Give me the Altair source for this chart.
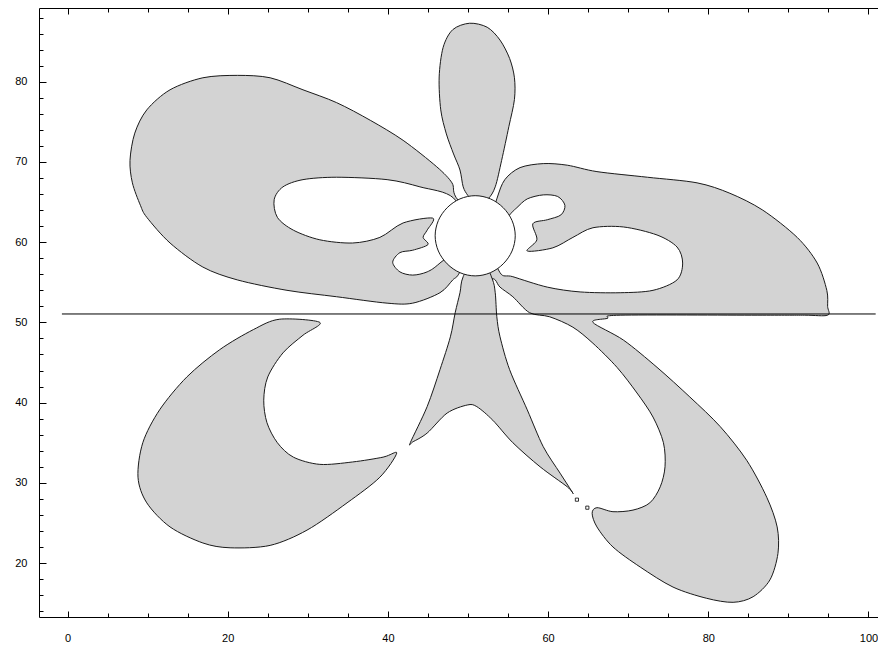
import altair as alt
import pandas as pd

# ---- filled (grey) regions, data coordinates ----
UPPER_LEFT_X = [48.5, 48.0, 46.1, 41.9, 37.8, 33.6, 29.4, 25.3, 21.2, 16.9, 12.8, 9.9, 8.4, 7.8, 8.1, 9.1, 9.9,
                12.8, 16.9, 21.2, 27.4, 33.6, 39.9, 43.1, 46.5, 48.1, 49.0, 51.5]
UPPER_LEFT_Y = [65.6, 67.4, 69.4, 72.7, 75.2, 77.4, 79.0, 80.5, 80.8, 80.5, 79.0, 76.5, 73.6, 70.2, 67.4, 64.6, 63.1,
                59.9, 56.9, 55.3, 54.0, 53.2, 52.4, 52.4, 53.7, 55.3, 56.3, 61.5]

TOP_X = [50.2, 48.1, 46.9, 46.4, 46.6, 47.3, 48.2, 49.0, 49.4, 50.0, 51.0, 52.5, 53.4, 54.2, 55.1, 55.8, 55.8,
         55.2, 54.0, 52.4]
TOP_Y = [87.3, 86.5, 84.3, 80.6, 76.5, 73.5, 71.0, 69.0, 66.9, 65.8, 64.6, 65.4, 66.9, 70.2, 74.4, 77.8, 80.5,
         82.9, 85.2, 86.8]

RIGHT_X = [52.3, 53.6, 54.6, 56.5, 59.4, 62.4, 66.1, 72.4, 78.6, 82.7, 86.8, 91.1, 93.6, 94.8, 94.9, 94.9, 92.0,
           86.1, 69.0, 67.4, 65.6, 69.4, 73.6, 77.7, 81.5, 84.8, 87.3, 88.6, 88.7, 87.7, 85.6, 83.1, 79.8, 75.6,
           71.5, 68.1, 66.1, 65.5, 66.1, 68.1, 70.6, 72.7, 74.0, 74.6, 74.4, 73.1, 71.1, 68.6, 65.6, 63.1, 60.2,
           57.7, 55.6, 54.0, 53.4, 52.4]
RIGHT_Y = [60.9, 65.4, 67.8, 69.3, 69.8, 69.6, 68.8, 68.1, 67.4, 66.1, 64.0, 60.6, 57.4, 54.0, 52.0, 50.9, 50.9,
           50.9, 50.9, 50.5, 50.0, 47.8, 44.4, 40.7, 37.0, 32.8, 28.2, 24.5, 21.2, 17.9, 15.8, 15.1, 15.6, 17.0,
           19.5, 22.0, 24.5, 26.2, 26.9, 26.4, 26.6, 27.5, 29.5, 32.0, 35.0, 38.2, 41.2, 44.4, 47.4, 49.4, 50.7,
           51.2, 53.2, 54.4, 55.3, 56.2]

STEM_X = [51.3, 49.4, 49.0, 48.4, 47.8, 46.5, 44.9, 42.8, 43.1, 44.9, 47.4, 49.9, 51.1, 53.1, 55.6, 59.0, 62.4,
          63.1, 61.5, 59.4, 57.4, 55.2, 54.0, 53.6, 53.4, 53.0]
STEM_Y = [59.0, 55.7, 53.7, 51.2, 48.2, 44.1, 39.5, 35.0, 35.1, 36.2, 38.7, 39.7, 39.5, 37.8, 35.0, 32.0, 29.5,
          28.7, 31.2, 34.5, 39.1, 44.1, 48.2, 50.7, 53.7, 55.5]

CRESCENT_X = [31.5, 26.5, 23.2, 19.0, 14.9, 11.5, 9.4, 8.8, 9.9, 12.8, 16.9, 20.3, 25.3, 29.9, 34.9, 39.0, 41.1,
              39.4, 35.6, 31.5, 28.2, 26.2, 24.9, 24.5, 25.0, 26.9, 29.4]
CRESCENT_Y = [50.0, 50.4, 49.1, 46.6, 43.2, 39.1, 35.0, 30.7, 27.5, 24.5, 22.5, 21.9, 22.2, 24.1, 27.5, 30.7, 33.7,
              33.2, 32.6, 32.3, 33.2, 35.0, 37.5, 40.3, 43.2, 46.2, 48.4]

# ---- unfilled (white) regions ----
LEFT_HOLE_X = [48.2, 44.0, 39.9, 33.6, 29.4, 26.9, 25.8, 26.2, 28.2, 31.5, 35.6, 39.0, 41.9, 45.6, 44.9, 44.4,
               45.0, 43.1, 41.5, 40.6, 41.5, 43.1, 44.9, 46.5, 50.2]
LEFT_HOLE_Y = [65.5, 66.9, 67.8, 68.1, 67.8, 66.9, 65.3, 63.1, 61.5, 60.3, 59.9, 60.6, 62.4, 63.0, 61.5, 60.6,
               59.7, 59.0, 58.7, 57.5, 56.3, 55.9, 56.3, 57.4, 60.9]

RIGHT_HOLE_X = [55.2, 56.1, 57.4, 59.4, 61.2, 62.1, 61.6, 59.9, 58.1, 58.6, 57.4, 60.6, 63.1, 65.6, 69.4, 73.6,
                76.1, 76.8, 76.1, 73.1, 69.0, 64.0, 59.9, 55.6, 54.0, 52.7]
RIGHT_HOLE_Y = [63.4, 64.3, 65.4, 65.9, 65.7, 64.6, 63.4, 62.8, 62.3, 60.3, 58.9, 59.3, 60.6, 61.8, 61.9, 60.9,
                59.4, 57.4, 55.3, 54.0, 53.7, 53.8, 54.4, 55.7, 56.2, 60.3]

CENTER_X = [55.9, 55.5, 54.4, 52.8, 50.9, 49.0, 47.4, 46.3, 45.9, 46.3, 47.4, 49.0, 50.9, 52.8, 54.4, 55.5]
CENTER_Y = [60.8, 62.7, 64.3, 65.4, 65.8, 65.4, 64.3, 62.7, 60.8, 58.9, 57.3, 56.2, 55.8, 56.2, 57.3, 58.9]

# tiny contour loops near the stem tip
DOT_X = [63.6, 64.9]
DOT_Y = [27.9, 26.9]

# horizontal line
HLINE_X = [-0.7, 100.9]
HLINE_Y = [51.05, 51.05]

# axis ticks
X_MAJOR = [0, 20, 40, 60, 80, 100]
X_MINOR = [5, 10, 15, 25, 30, 35, 45, 50, 55, 65, 70, 75, 85, 90, 95]
Y_MAJOR = [20, 30, 40, 50, 60, 70, 80]
Y_MINOR = [14, 16, 18, 22, 24, 26, 28, 32, 34, 36, 38, 42, 44, 46, 48, 52, 54, 56, 58,
           62, 64, 66, 68, 72, 74, 76, 78, 82, 84, 86, 88]


def frame(shapes):
    rows = []
    for name, xs, ys in shapes:
        for i, (x, y) in enumerate(zip(xs, ys)):
            rows.append({"shape": name, "i": i, "x": x, "y": y})
    return pd.DataFrame(rows)


grey_df = frame([("ul", UPPER_LEFT_X, UPPER_LEFT_Y), ("top", TOP_X, TOP_Y), ("right", RIGHT_X, RIGHT_Y),
                 ("stem", STEM_X, STEM_Y), ("crescent", CRESCENT_X, CRESCENT_Y)])
hole_df = frame([("lh", LEFT_HOLE_X, LEFT_HOLE_Y), ("rh", RIGHT_HOLE_X, RIGHT_HOLE_Y)])
circle_df = frame([("c", CENTER_X, CENTER_Y)])
dot_df = pd.DataFrame({"x": DOT_X, "y": DOT_Y})
hline_df = pd.DataFrame({"x": HLINE_X, "y": HLINE_Y})

XS = alt.Scale(domain=[-3.56, 101.19], nice=False, zero=False)
YS = alt.Scale(domain=[13.27, 89.20], nice=False, zero=False)

FONT = "Liberation Sans"
common = dict(grid=False, title=None, tickColor="black", domainColor="black", labelColor="black")


def ax(orient, values=None, size=0, labels=False, domain=False, pad=0):
    kw = dict(common)
    kw.update(orient=orient, domain=domain, labels=labels)
    if values is not None:
        kw.update(values=values, ticks=True, tickSize=size, offset=-size, tickWidth=1)
    else:
        kw.update(ticks=False, values=[], offset=0)
    if labels:
        kw.update(labelFont=FONT, labelFontSize=11, labelPadding=pad, labelFlush=False)
    return alt.Axis(**kw)


CURVE = "cardinal-closed"
STROKE = "#1a1a1a"

grey = alt.Chart(grey_df).mark_line(
    fill="#d3d3d3", stroke=STROKE, strokeWidth=1, interpolate=CURVE, tension=0.1
).encode(
    x=alt.X("x:Q", scale=XS, axis=ax("bottom", X_MAJOR, 6, True, pad=15)),
    y=alt.Y("y:Q", scale=YS, axis=ax("left", Y_MAJOR, 7, True, pad=12)),
    detail="shape:N", order="i:Q",
)

holes = alt.Chart(hole_df).mark_line(
    fill="white", stroke=STROKE, strokeWidth=1, interpolate=CURVE, tension=0.1
).encode(
    x=alt.X("x:Q", scale=XS, axis=ax("bottom", X_MINOR, 4)),
    y=alt.Y("y:Q", scale=YS, axis=ax("left", Y_MINOR, 4)),
    detail="shape:N", order="i:Q",
)

circle = alt.Chart(circle_df).mark_line(
    fill="white", stroke=STROKE, strokeWidth=1, interpolate="cardinal-closed", tension=0.0
).encode(
    x=alt.X("x:Q", scale=XS, axis=ax("bottom", domain=True)),
    y=alt.Y("y:Q", scale=YS, axis=ax("left", domain=True)),
    detail="shape:N", order="i:Q",
)

hline = alt.Chart(hline_df).mark_line(stroke="black", strokeWidth=1).encode(
    x=alt.X("x:Q", scale=XS, axis=ax("top", X_MAJOR, 6)),
    y=alt.Y("y:Q", scale=YS, axis=None),
)

dots = alt.Chart(dot_df).mark_point(
    shape="square", size=10, filled=True, fill="white", stroke="black", strokeWidth=0.8, opacity=1
).encode(
    x=alt.X("x:Q", scale=XS, axis=ax("top", X_MINOR, 4)),
    y=alt.Y("y:Q", scale=YS, axis=None),
)

topframe = alt.Chart(hline_df).mark_line(strokeOpacity=0).encode(
    x=alt.X("x:Q", scale=XS, axis=ax("top", domain=True)),
    y=alt.Y("y:Q", scale=YS, axis=None),
)

chart = alt.layer(grey, holes, circle, hline, dots, topframe).resolve_axis(
    x="independent", y="independent"
).properties(
    width=839, height=609,
    autosize=alt.AutoSizeParams(type="none"),
    padding={"left": 31, "top": 0, "right": 0, "bottom": 26},
    background="white",
).configure_view(stroke=None)

chart.save("out.html", embed_options={"renderer": "svg", "actions": False})
